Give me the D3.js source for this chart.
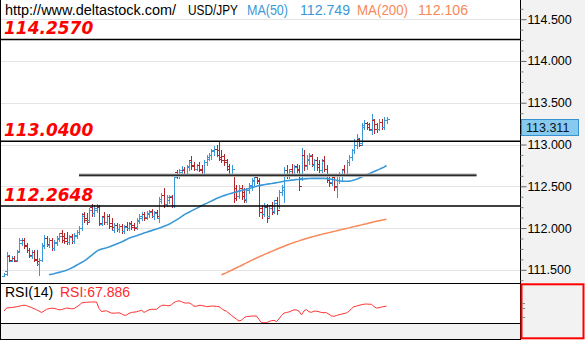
<!DOCTYPE html>
<html><head><meta charset="utf-8">
<script src="https://cdn.jsdelivr.net/npm/d3@7"></script>
<style>body{margin:0;background:#fff}svg{display:block}</style>
</head><body>
<svg id="c" width="585" height="340"></svg>
<script>
// ---------- DATA ----------
const opens=[111.43,111.48,111.67,111.61,111.64,111.62,111.73,111.82,111.86,111.80,
111.74,111.67,111.71,111.63,111.57,111.62,111.79,111.88,111.80,111.86,
111.76,111.82,111.87,111.94,111.90,111.88,111.83,111.90,111.85,111.90,
111.95,112.00,112.17,112.12,112.10,112.25,112.18,112.21,112.25,112.05,
112.14,112.07,112.14,112.06,111.98,112.04,111.99,112.02,111.96,112.02,
112.00,112.06,112.04,112.01,112.08,112.12,112.17,112.13,112.17,112.20,
112.14,112.19,112.12,112.32,112.39,112.29,112.33,112.37,112.27,112.67,
112.62,112.67,112.70,112.65,112.73,112.82,112.75,112.71,112.75,112.71,
112.65,112.79,112.83,112.87,112.92,112.95,112.93,112.85,112.86,112.81,
112.74,112.64,112.62,112.48,112.38,112.48,112.43,112.35,112.45,112.50,
112.56,112.61,112.57,112.24,112.17,112.25,112.15,112.27,112.20,112.33,
112.26,112.43,112.45,112.69,112.62,112.71,112.64,112.74,112.71,112.60,
112.87,112.74,112.81,112.86,112.75,112.81,112.77,112.70,112.81,112.71,
112.60,112.55,112.61,112.49,112.57,112.62,112.71,112.65,112.79,112.85,
112.93,112.99,113.06,113.02,113.21,113.26,113.24,113.17,113.29,113.24,
113.19,113.27,113.21,113.29];
const highs=[111.46,111.71,111.68,111.67,111.67,111.74,111.88,111.88,111.88,111.82,
111.76,111.74,111.74,111.74,111.64,111.82,111.92,111.90,111.88,111.88,
111.86,111.90,111.94,111.98,111.94,111.95,111.92,111.93,111.94,111.98,
112.02,112.18,112.19,112.18,112.24,112.29,112.27,112.29,112.27,112.15,
112.19,112.17,112.17,112.12,112.06,112.06,112.05,112.05,112.04,112.07,
112.07,112.08,112.06,112.12,112.17,112.19,112.19,112.20,112.21,112.23,
112.20,112.21,112.37,112.42,112.48,112.40,112.40,112.40,112.63,112.69,
112.71,112.74,112.73,112.76,112.81,112.86,112.79,112.77,112.79,112.75,
112.81,112.87,112.90,112.95,112.98,112.99,113.04,112.93,112.89,112.83,
112.77,112.75,112.64,112.51,112.52,112.51,112.48,112.48,112.54,112.60,
112.63,112.63,112.60,112.27,112.30,112.29,112.27,112.31,112.33,112.37,
112.45,112.51,112.73,112.75,112.71,112.77,112.75,112.77,112.75,112.96,
112.93,112.87,112.90,112.89,112.83,112.85,112.81,112.83,112.86,112.75,
112.65,112.64,112.63,112.61,112.67,112.71,112.75,112.81,112.87,112.95,
113.06,113.13,113.08,113.26,113.29,113.27,113.26,113.36,113.31,113.26,
113.31,113.30,113.33,113.33];
const lows=[111.42,111.44,111.60,111.60,111.60,111.60,111.71,111.80,111.76,111.71,
111.65,111.64,111.60,111.56,111.44,111.60,111.76,111.79,111.77,111.74,
111.74,111.80,111.85,111.83,111.82,111.81,111.81,111.82,111.82,111.88,
111.93,111.98,112.07,112.05,112.07,112.15,112.15,112.19,112.04,112.04,
112.05,112.05,112.00,111.99,111.95,111.96,111.95,111.94,111.94,111.98,
111.98,111.99,111.98,111.99,112.06,112.10,112.10,112.11,112.13,112.13,
112.11,112.12,112.07,112.30,112.25,112.26,112.30,112.25,112.25,112.60,
112.60,112.64,112.62,112.63,112.69,112.71,112.69,112.69,112.68,112.63,
112.63,112.75,112.81,112.83,112.88,112.86,112.81,112.79,112.76,112.69,
112.62,112.63,112.31,112.33,112.36,112.35,112.31,112.31,112.42,112.45,
112.52,112.54,112.15,112.12,112.14,112.07,112.12,112.17,112.18,112.17,
112.24,112.39,112.31,112.60,112.60,112.62,112.62,112.67,112.45,112.57,
112.69,112.71,112.77,112.74,112.69,112.69,112.67,112.67,112.68,112.55,
112.50,112.52,112.45,112.37,112.54,112.57,112.62,112.63,112.76,112.82,
112.90,112.96,112.98,113.00,113.19,113.19,113.17,113.13,113.14,113.15,
113.17,113.19,113.19,113.26];
const closes=[111.45,111.68,111.62,111.64,111.61,111.71,111.86,111.86,111.79,111.74,
111.68,111.71,111.62,111.60,111.62,111.80,111.88,111.81,111.86,111.76,
111.83,111.88,111.90,111.86,111.85,111.83,111.89,111.85,111.92,111.95,
112.00,112.15,112.10,112.07,112.21,112.18,112.24,112.26,112.06,112.13,
112.07,112.14,112.02,112.01,112.04,111.99,112.02,111.96,112.01,112.00,
112.05,112.01,112.00,112.10,112.14,112.17,112.12,112.18,112.19,112.15,
112.18,112.14,112.35,112.39,112.29,112.37,112.38,112.27,112.61,112.62,
112.69,112.71,112.64,112.74,112.79,112.74,112.71,112.75,112.70,112.65,
112.79,112.85,112.88,112.93,112.95,112.88,112.83,112.81,112.79,112.71,
112.64,112.71,112.36,112.38,112.48,112.38,112.33,112.45,112.51,112.57,
112.61,112.56,112.19,112.17,112.26,112.12,112.24,112.19,112.30,112.21,
112.43,112.49,112.69,112.63,112.68,112.65,112.73,112.69,112.50,112.87,
112.75,112.83,112.87,112.77,112.81,112.73,112.69,112.80,112.71,112.57,
112.54,112.62,112.50,112.57,112.64,112.69,112.65,112.79,112.85,112.93,
113.04,113.08,113.00,113.23,113.26,113.21,113.19,113.31,113.18,113.18,
113.27,113.21,113.29,113.311];
// MA(50): values for the last bars (aligned to the end of the series)
const ma50=[111.440,111.446,111.452,111.461,111.469,111.476,111.485,111.496,111.508,111.521,
111.536,111.554,111.571,111.587,111.604,111.625,111.649,111.673,111.696,111.720,
111.738,111.748,111.756,111.764,111.774,111.786,111.798,111.810,111.821,111.833,
111.848,111.863,111.879,111.889,111.899,111.908,111.919,111.929,111.941,111.950,
111.960,111.969,111.980,111.988,111.998,112.008,112.020,112.032,112.045,112.062,
112.080,112.098,112.116,112.137,112.158,112.175,112.190,112.205,112.220,112.235,
112.250,112.268,112.282,112.295,112.310,112.324,112.339,112.354,112.366,112.377,
112.388,112.398,112.407,112.417,112.425,112.433,112.442,112.450,112.457,112.464,
112.473,112.481,112.491,112.500,112.508,112.514,112.519,112.524,112.529,112.533,
112.538,112.543,112.548,112.554,112.560,112.566,112.570,112.574,112.577,112.581,
112.583,112.586,112.588,112.591,112.593,112.594,112.595,112.595,112.595,112.595,
112.594,112.592,112.588,112.583,112.577,112.571,112.566,112.562,112.560,112.560,
112.562,112.567,112.574,112.583,112.595,112.610,112.624,112.637,112.650,112.663,
112.676,112.689,112.702,112.716,112.729,112.749];
// MA(200): values for the last bars (aligned to the end of the series)
const ma200=[111.440,111.452,111.467,111.481,111.495,111.510,111.524,111.538,111.552,111.568,
111.583,111.598,111.612,111.626,111.641,111.655,111.668,111.681,111.694,111.707,
111.720,111.733,111.746,111.758,111.770,111.782,111.794,111.805,111.816,111.826,
111.837,111.846,111.856,111.866,111.875,111.883,111.892,111.900,111.908,111.917,
111.924,111.931,111.938,111.945,111.952,111.960,111.967,111.974,111.981,111.988,
111.995,112.002,112.010,112.017,112.024,112.031,112.038,112.045,112.052,112.060,
112.067,112.074,112.081,112.088,112.094,112.100,112.106];
const rsi=[56.7,63.4,63.9,64.5,65.2,66.3,67.4,68.6,69.7,68.8,
66.5,64.3,61.9,59.4,56.7,53.4,56.7,60.5,61.9,63.0,
62.8,61.2,59.4,60.1,61.6,63.2,62.8,61.6,62.1,65.7,
69.4,74.3,75.7,76.1,76.6,76.8,76.8,76.8,62.3,55.6,
56.5,57.2,54.5,52.1,51.8,52.3,52.7,50.7,47.2,47.8,
51.6,53.4,54.3,55.0,56.7,58.5,53.6,56.3,59.4,60.5,
60.5,60.5,65.2,69.2,69.7,69.0,68.1,70.8,75.7,78.1,
79.3,77.9,75.0,74.3,75.0,71.7,67.4,67.4,69.4,69.2,
67.9,66.5,67.0,67.7,67.7,67.0,66.5,62.3,58.3,56.1,
51.6,46.7,42.5,38.5,34.5,36.2,41.8,44.5,44.7,45.4,
45.6,45.6,37.8,30.7,30.7,30.7,33.1,35.3,35.8,33.3,
39.1,46.9,52.1,53.4,54.7,57.0,59.4,59.0,56.3,48.1,
57.0,59.9,55.0,53.8,56.5,56.1,55.0,53.4,53.0,53.0,
49.4,45.8,44.9,46.7,48.5,49.8,51.2,52.5,56.1,62.1,
66.5,67.7,69.4,70.8,71.9,72.3,71.9,71.7,66.5,63.4,
64.1,65.7,66.5,67.886];
const keyLevels=[114.2570,113.0400,112.2648];
const supportLevel=112.631;
const supportFromBar=30, supportToBar=189;
const majorTicks=[111.5,112.0,112.5,113.0,113.5,114.0,114.5];
const minorTicks=[111.375,111.625,111.75,111.875,112.125,112.25,112.375,112.625,112.75,112.875,
113.125,113.25,113.375,113.625,113.75,113.875,114.125,114.25,114.375,114.625];
const headerSite="http://www.deltastock.com/";
const symbol="USD/JPY";

// ---------- LAYOUT ----------
const svg=d3.select("#c");
const W=585, plotR=520, mainB=283, rsiT=283, rsiB=323, bot=339;
const N=closes.length;
const x=d3.scaleLinear().domain([0,N-1]).range([4,386.5]);
const y=d3.scaleLinear().domain([111.5,114.5]).range([269.8,19.2]);
const yr=d3.scaleLinear().domain([30,80]).range([323,300.56]);
const px=i=>Math.round(x(i))+0.5;
const py=v=>Math.round(y(v))+0.5;
const BLUE="#3a98d8", RED="#b3262c", ORANGE="#f7895a";
const FONT="'Liberation Sans', Arial, sans-serif";

svg.append("rect").attr("x",plotR).attr("y",0).attr("width",W-plotR).attr("height",mainB).attr("fill","#f2f2f2");
svg.append("rect").attr("x",0).attr("y",rsiB).attr("width",plotR).attr("height",bot-rsiB).attr("fill","#f2f2f2");

const defs=svg.append("defs");
defs.append("clipPath").attr("id","mainClip").append("rect").attr("x",0).attr("y",0).attr("width",plotR).attr("height",mainB);
defs.append("clipPath").attr("id","rsiClip").append("rect").attr("x",0).attr("y",rsiT).attr("width",plotR).attr("height",rsiB-rsiT);

// gridlines
svg.append("g").selectAll("line").data(majorTicks).join("line")
  .attr("x1",0).attr("x2",plotR).attr("y1",d=>py(d)).attr("y2",d=>py(d))
  .attr("stroke","#e4e4e4").attr("stroke-width",1);

const main=svg.append("g").attr("clip-path","url(#mainClip)");

// OHLC bars
const idx=d3.range(N);
main.append("g").selectAll("path").data(idx).join("path")
  .attr("d",i=>{const X=px(i);return `M${X},${py(highs[i])-0.5}V${py(lows[i])+0.5}M${X-2.5},${py(opens[i])}H${X}M${X},${py(closes[i])}H${X+2.5}`;})
  .attr("stroke",i=>closes[i]>=opens[i]?BLUE:RED).attr("stroke-width",1).attr("fill","none")
  .attr("shape-rendering","crispEdges");

// Moving averages
const off50=N-ma50.length, off200=N-ma200.length;
main.append("path").datum(ma50).attr("fill","none").attr("stroke",BLUE).attr("stroke-width",1.6)
  .attr("d",d3.line().x((d,i)=>x(i+off50)).y(d=>y(d)));
main.append("path").datum(ma200).attr("fill","none").attr("stroke",ORANGE).attr("stroke-width",1.5)
  .attr("d",d3.line().x((d,i)=>x(i+off200)).y(d=>y(d)));

// support line (grey with dark core)
main.append("line").attr("x1",x(supportFromBar)).attr("x2",x(supportToBar))
  .attr("y1",y(supportLevel)).attr("y2",y(supportLevel)).attr("stroke","#b4b4b4").attr("stroke-width",3.4);
main.append("line").attr("x1",x(supportFromBar)).attr("x2",x(supportToBar))
  .attr("y1",y(supportLevel)).attr("y2",y(supportLevel)).attr("stroke","#2a2a2a").attr("stroke-width",1.5);

// key levels
main.append("g").selectAll("line").data(keyLevels).join("line")
  .attr("x1",0).attr("x2",plotR).attr("y1",d=>y(d)).attr("y2",d=>y(d))
  .attr("stroke","#000").attr("stroke-width",1.5);
svg.append("g").selectAll("text").data(keyLevels).join("text")
  .attr("x",4).attr("y",d=>y(d)-5).text(d=>d.toFixed(4))
  .attr("fill","#ff0000").attr("font-family","'DejaVu Sans', Verdana, sans-serif")
  .attr("font-weight","bold").attr("font-style","italic").attr("font-size",17);

// header
const hdr=[{t:headerSite,x:5,w:171,c:"#000"},{t:symbol,x:188,w:50,c:"#000"},
  {t:"MA(50)",x:247,w:41,c:BLUE},{t:d3.format(".3f")(ma50[ma50.length-1]),x:300,w:50,c:BLUE},
  {t:"MA(200)",x:357,w:51,c:ORANGE},{t:d3.format(".3f")(ma200[ma200.length-1]),x:418,w:50,c:ORANGE}];
svg.append("g").selectAll("text").data(hdr).join("text")
  .attr("x",d=>d.x).attr("y",15).text(d=>d.t).attr("fill",d=>d.c)
  .attr("textLength",d=>d.w).attr("lengthAdjust","spacingAndGlyphs")
  .attr("font-family",FONT).attr("font-size",14);

// RSI
const rsiG=svg.append("g").attr("clip-path","url(#rsiClip)");
rsiG.append("path").datum(rsi).attr("fill","none").attr("stroke","#ff3333").attr("stroke-width",1)
  .attr("d",d3.line().x((d,i)=>x(i)).y(d=>yr(d)));
svg.append("text").attr("x",5).attr("y",296.5).text("RSI(14)").attr("fill","#000")
  .attr("font-family",FONT).attr("font-size",14);
svg.append("text").attr("x",60).attr("y",296.5).text("RSI:"+d3.format(".3f")(rsi[rsi.length-1]))
  .attr("fill","#ff2a2a").attr("font-family",FONT).attr("font-size",14);

// borders
const hl=(x1,x2,yy,c)=>svg.append("line").attr("x1",x1).attr("x2",x2).attr("y1",yy).attr("y2",yy).attr("stroke",c||"#000").attr("stroke-width",1);
hl(0,plotR,mainB+0.5); hl(0,plotR,rsiB+0.5); hl(0,plotR,bot+0.5);
svg.append("line").attr("x1",0.5).attr("x2",0.5).attr("y1",0).attr("y2",bot+1).attr("stroke","#000");
svg.append("line").attr("x1",plotR+0.5).attr("x2",plotR+0.5).attr("y1",0).attr("y2",bot+1).attr("stroke","#000");

// red RSI scale box
svg.append("rect").attr("x",521.5).attr("y",284.3).attr("width",62).attr("height",54)
  .attr("fill","#f2f2f2").attr("stroke","#ff0000").attr("stroke-width",2);
svg.append("g").selectAll("line").data([40,60,70]).join("line")
  .attr("x1",522).attr("x2",525).attr("y1",d=>Math.round(yr(d))+0.5-2).attr("y2",d=>Math.round(yr(d))+0.5-2)
  .attr("stroke","#888");

// y axis
const axMajor=d3.axisRight(y).tickValues(majorTicks).tickSize(6).tickPadding(1).tickFormat(d3.format(".3f"));
const gA=svg.append("g").attr("transform",`translate(${plotR+0.5},0)`).call(axMajor);
gA.select(".domain").remove();
gA.selectAll("line").attr("stroke","#666");
gA.selectAll("text").attr("font-family",FONT).attr("font-size",12.5).attr("fill","#000");
const axMinor=d3.axisRight(y).tickValues(minorTicks).tickSize(3).tickFormat("");
const gM=svg.append("g").attr("transform",`translate(${plotR+0.5},0)`).call(axMinor);
gM.select(".domain").remove();
gM.selectAll("line").attr("stroke","#888");

// last price box
const last=closes[N-1];
const by=Math.round(y(last))+0.5;
svg.append("rect").attr("x",521.5).attr("y",by).attr("width",57).attr("height",16)
  .attr("fill","#86cbef").attr("stroke","#3892d0").attr("stroke-width",1);
svg.append("text").attr("x",526).attr("y",by+12.5).text(d3.format(".3f")(last))
  .attr("font-family",FONT).attr("font-size",12.5).attr("fill","#111");
</script>
</body></html>
